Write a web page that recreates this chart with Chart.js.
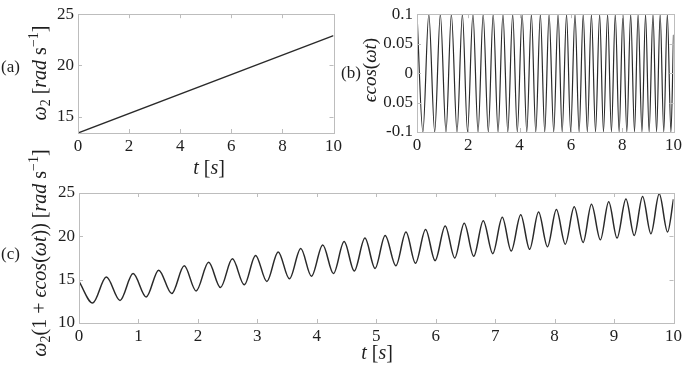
<!DOCTYPE html>
<html>
<head>
<meta charset="utf-8">
<script src="https://cdn.jsdelivr.net/npm/chart.js@4.4.1/dist/chart.umd.min.js"></script>
<style>
    body { margin: 0; background: #fff; }
    #wrap { position: relative; width: 685px; height: 366px; overflow: hidden; font-family: "Liberation Serif", "Times New Roman", serif; color: #1e1e1e; }
    canvas { position: absolute; }
    .lab { position: absolute; font-size: 17px; line-height: 1; white-space: nowrap; transform: translateY(-50%); }
    .ttl { position: absolute; font-size: 20px; line-height: 1; white-space: nowrap; transform: translate(-50%, -50%); }
    .rot { transform: translate(-50%, -50%) rotate(-90deg); }
    .ttl sub { font-size: 0.7em; vertical-align: -0.25em; }
    .ttl sup { font-size: 0.7em; vertical-align: 0.55em; }
</style>
</head>
<body>
<div id="wrap">
    <canvas id="chartA" width="345" height="180" style="left:0;top:0"></canvas>
    <canvas id="chartB" width="355" height="180" style="left:330px;top:0"></canvas>
    <canvas id="chartC" width="685" height="216" style="left:0;top:150px"></canvas>

    <div class="lab" style="left:1px;top:66px">(a)</div>
    <div class="lab" style="left:341px;top:72px">(b)</div>
    <div class="lab" style="left:1px;top:253px">(c)</div>

    <div class="ttl rot" style="left:40px;top:73px"><i>ω</i><sub>2</sub> [<i>rad</i> s<sup>−1</sup>]</div>
    <div class="ttl" style="left:209px;top:167px"><i>t</i> [<i>s</i>]</div>
    <div class="ttl rot" style="left:369px;top:70px;font-size:19px"><i>ϵcos</i>(<i>ωt</i>)</div>
    <div class="ttl rot" style="left:40px;top:253px"><i>ω</i><sub>2</sub>(1 + <i>ϵcos</i>(<i>ωt</i>)) [<i>rad</i> s<sup>−1</sup>]</div>
    <div class="ttl" style="left:377px;top:352px"><i>t</i> [<i>s</i>]</div>
</div>

<script>
// (a) omega_2 grows linearly with time
const tA = [0, 10];
const omegaA = [13.4, 22.9];
const xTicksA = [0, 2, 4, 6, 8, 10];
const yTicksA = [15, 20, 25];

// extrema of the oscillation (start, trough, peak, ... , end)
const tExt = [0, 0.23, 0.46, 0.69, 0.91, 1.13, 1.34, 1.56, 1.77, 1.97,
    2.18, 2.38, 2.58, 2.78, 2.97, 3.16, 3.35, 3.54, 3.73, 3.91,
    4.10, 4.28, 4.46, 4.63, 4.81, 4.98, 5.15, 5.33, 5.50, 5.66,
    5.83, 5.99, 6.16, 6.32, 6.48, 6.64, 6.80, 6.96, 7.12, 7.27,
    7.43, 7.58, 7.73, 7.88, 8.03, 8.18, 8.33, 8.48, 8.62, 8.77,
    8.91, 9.05, 9.20, 9.34, 9.48, 9.62, 9.76, 9.90, 10];

// (b) eps*cos(wt)
const epsCos = [0.1, -0.1, 0.1, -0.1, 0.1, -0.1, 0.1, -0.1, 0.1, -0.1,
    0.1, -0.1, 0.1, -0.1, 0.1, -0.1, 0.1, -0.1, 0.1, -0.1,
    0.1, -0.1, 0.1, -0.1, 0.1, -0.1, 0.1, -0.1, 0.1, -0.1,
    0.1, -0.1, 0.1, -0.1, 0.1, -0.1, 0.1, -0.1, 0.1, -0.1,
    0.1, -0.1, 0.1, -0.1, 0.1, -0.1, 0.1, -0.1, 0.1, -0.1,
    0.1, -0.1, 0.1, -0.1, 0.1, -0.1, 0.1, -0.1, 0.065];
const xTicksB = [0, 2, 4, 6, 8, 10];
const yTicksB = [-0.1, -0.05, 0, 0.05, 0.1];
const yLabelsB = ['-0.1', '0.05', '0', '0.05', '0.1'];

// (c) omega_2 (1 + eps cos(wt))
const omegaMod = [14.8, 12.3, 15.3, 12.6, 15.7, 13.0, 16.1, 13.4, 16.6, 13.7,
    17.0, 14.1, 17.4, 14.4, 17.8, 14.8, 18.2, 15.1, 18.6, 15.4,
    19.0, 15.7, 19.4, 16.0, 19.8, 16.3, 20.1, 16.6, 20.5, 16.9,
    20.8, 17.2, 21.2, 17.5, 21.5, 17.7, 21.8, 18.0, 22.2, 18.3,
    22.5, 18.5, 22.8, 18.8, 23.1, 19.1, 23.4, 19.3, 23.7, 19.6,
    24.0, 19.8, 24.3, 20.1, 24.6, 20.3, 24.9, 20.5, 24.3];
const xTicksC = [0, 1, 2, 3, 4, 5, 6, 7, 8, 9, 10];
const yTicksC = [10, 15, 20, 25];

const FONT = '"Liberation Serif", "Times New Roman", serif';
const TEXT = '#1e1e1e';
const LINE = '#2a2a2a';
const BOX = '#bdbdbd';

// box around the plot area with MATLAB style inward ticks on all four sides
const framePlugin = {
    id: 'frame',
    afterDraw(chart) {
        const { ctx, chartArea: a, scales } = chart;
        ctx.save();
        ctx.strokeStyle = BOX;
        ctx.lineWidth = 1;
        ctx.strokeRect(Math.round(a.left) + 0.5, Math.round(a.top) + 0.5,
            Math.round(a.right - a.left), Math.round(a.bottom - a.top));
        const len = 4;
        ctx.beginPath();
        scales.x.ticks.forEach(t => {
            const px = Math.round(scales.x.getPixelForValue(t.value)) + 0.5;
            if (px < a.left + 2 || px > a.right - 2) return;
            ctx.moveTo(px, a.bottom); ctx.lineTo(px, a.bottom - len);
            ctx.moveTo(px, a.top); ctx.lineTo(px, a.top + len);
        });
        scales.y.ticks.forEach(t => {
            const py = Math.round(scales.y.getPixelForValue(t.value)) + 0.5;
            if (py < a.top + 2 || py > a.bottom - 2) return;
            ctx.moveTo(a.left, py); ctx.lineTo(a.left + len, py);
            ctx.moveTo(a.right, py); ctx.lineTo(a.right - len, py);
        });
        ctx.stroke();
        ctx.restore();
    }
};

function makeChart(id, xs, ys, cfg) {
    const points = xs.map((x, i) => ({ x: x, y: ys[i] }));
    return new Chart(document.getElementById(id).getContext('2d'), {
        type: 'line',
        data: {
            datasets: [{
                data: points,
                borderColor: LINE,
                borderWidth: cfg.lineWidth,
                pointRadius: 0,
                cubicInterpolationMode: cfg.smooth ? 'monotone' : 'default',
                fill: false
            }]
        },
        options: {
            responsive: false,
            animation: false,
            events: [],
            layout: { padding: { left: 0, right: cfg.padRight, top: cfg.padTop, bottom: 0 } },
            plugins: { legend: { display: false }, tooltip: { enabled: false } },
            scales: {
                x: {
                    type: 'linear',
                    min: cfg.xMin, max: cfg.xMax,
                    afterBuildTicks: s => { s.ticks = cfg.xTicks.map(v => ({ value: v })); },
                    afterFit: s => { s.height = cfg.xHeight; },
                    grid: { display: false, drawTicks: false },
                    border: { display: false },
                    ticks: { color: TEXT, padding: 3, maxRotation: 0, font: { family: FONT, size: 17 } }
                },
                y: {
                    type: 'linear',
                    min: cfg.yMin, max: cfg.yMax,
                    afterBuildTicks: s => { s.ticks = cfg.yTicks.map(v => ({ value: v })); },
                    afterFit: s => { s.width = cfg.yWidth; },
                    grid: { display: false, drawTicks: false },
                    border: { display: false },
                    ticks: {
                        color: TEXT, padding: 4, font: { family: FONT, size: 17 },
                        callback: cfg.yLabels ? (v, i) => cfg.yLabels[i] : v => v
                    }
                }
            }
        },
        plugins: [framePlugin]
    });
}

makeChart('chartA', tA, omegaA, {
    xMin: 0, xMax: 10, yMin: 13.4, yMax: 25, xTicks: xTicksA, yTicks: yTicksA,
    yWidth: 78, xHeight: 47, padRight: 10, padTop: 13, lineWidth: 1.4, smooth: false
});

makeChart('chartB', tExt, epsCos, {
    xMin: 0, xMax: 10, yMin: -0.1, yMax: 0.1, xTicks: xTicksB, yTicks: yTicksB, yLabels: yLabelsB,
    yWidth: 87, xHeight: 48, padRight: 10, padTop: 12, lineWidth: 1.2, smooth: true
});

makeChart('chartC', tExt, omegaMod, {
    xMin: 0, xMax: 10, yMin: 10, yMax: 25, xTicks: xTicksC, yTicks: yTicksC,
    yWidth: 79, xHeight: 43, padRight: 10, padTop: 43, lineWidth: 1.5, smooth: true
});
</script>
</body>
</html>
